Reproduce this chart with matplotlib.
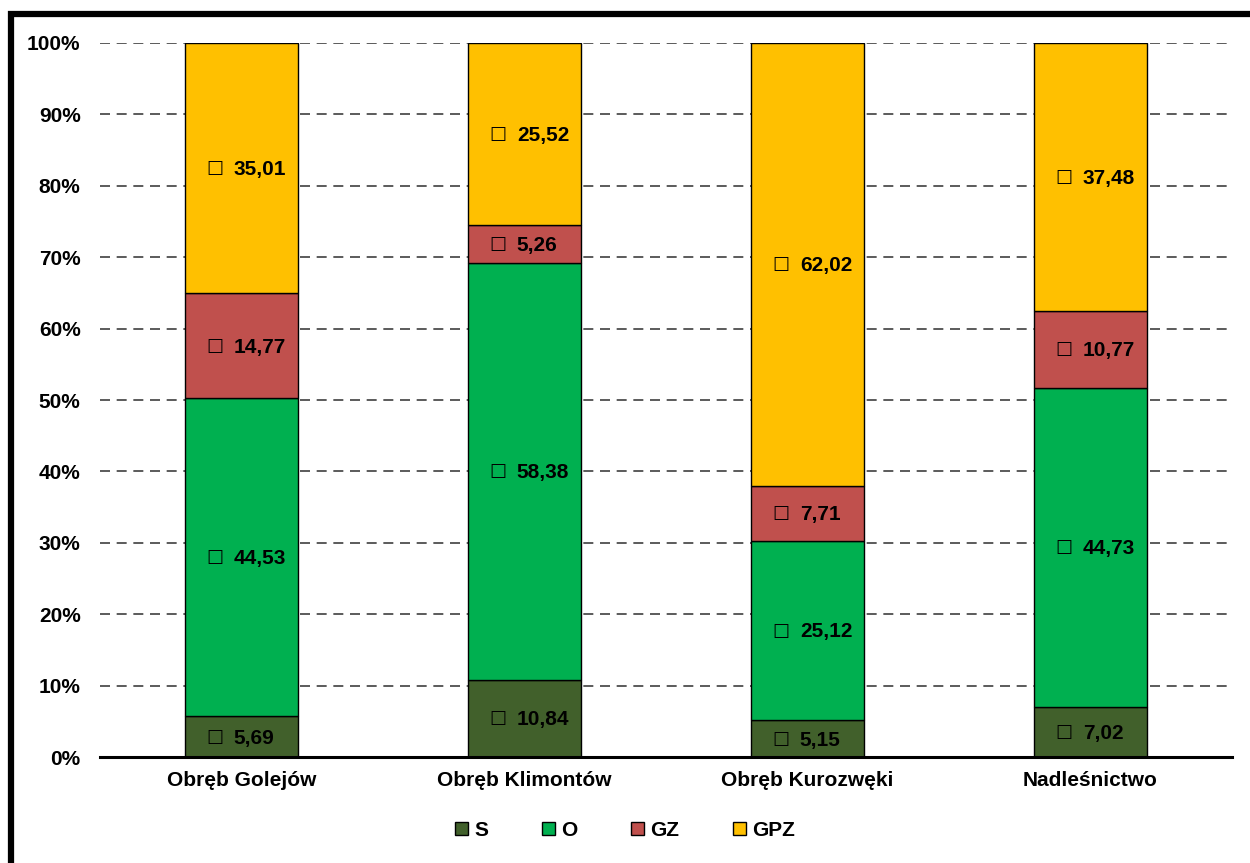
import matplotlib
matplotlib.use("Agg")
import matplotlib.pyplot as plt
from matplotlib.patches import Rectangle
from matplotlib.ticker import PercentFormatter

categories = ["Obręb Golejów", "Obręb Klimontów", "Obręb Kurozwęki", "Nadleśnictwo"]
series_names = ["S", "O", "GZ", "GPZ"]
s_vals = [5.69, 10.84, 5.15, 7.02]
o_vals = [44.53, 58.38, 25.12, 44.73]
gz_vals = [14.77, 5.26, 7.71, 10.77]
gpz_vals = [35.01, 25.52, 62.02, 37.48]
colors = ["#41602B", "#00B050", "#C0504D", "#FFC000"]
y_ticks = [0, 10, 20, 30, 40, 50, 60, 70, 80, 90, 100]

FONT = ["Liberation Sans Narrow", "Liberation Sans", "DejaVu Sans"]
plt.rcParams["font.family"] = FONT
plt.rcParams["font.weight"] = "bold"

fig = plt.figure(figsize=(12.5, 8.63), dpi=100)
ax = fig.add_axes([100 / 1250, 1 - 757 / 863, 1132 / 1250, 714 / 863])

x = list(range(len(categories)))
bottom = [0.0] * len(categories)
for name, vals, col in zip(series_names, [s_vals, o_vals, gz_vals, gpz_vals], colors):
    ax.bar(x, vals, width=0.40, bottom=bottom, color=col, edgecolor="black",
           linewidth=1.0, label=name, zorder=3)
    for xi, b, v in zip(x, bottom, vals):
        yc = b + v / 2
        ax.annotate("□", (xi, yc), xytext=(-19.5, 0), textcoords="offset points",
                    ha="center", va="center", fontsize=13, family="DejaVu Sans",
                    fontweight="normal", zorder=5)
        ax.annotate(f"{v:.2f}".replace(".", ","), (xi, yc), xytext=(-5.5, -1),
                    textcoords="offset points", ha="left", va="center",
                    fontsize=15, fontweight="bold", zorder=5)
    bottom = [b + v for b, v in zip(bottom, vals)]

ax.set_xlim(-0.5, 3.5)
ax.set_ylim(0, 100)
ax.set_yticks(y_ticks)
ax.yaxis.set_major_formatter(PercentFormatter(decimals=0))
ax.set_xticks(x)
ax.set_xticklabels(categories)
ax.tick_params(axis="both", length=0, labelsize=15)
ax.tick_params(axis="y", pad=14)
ax.tick_params(axis="x", pad=10)
for lbl in ax.get_xticklabels() + ax.get_yticklabels():
    lbl.set_fontweight("bold")

ax.grid(axis="y", linestyle=(0, (6, 4)), color="#404040", linewidth=1.2, zorder=0)
for side in ["left", "right", "top"]:
    ax.spines[side].set_visible(False)
ax.spines["bottom"].set_linewidth(2.2)
ax.spines["bottom"].set_zorder(4)

leg = fig.legend(loc="center", bbox_to_anchor=(0.5, 1 - 830 / 863), ncol=4,
                 frameon=False, fontsize=15, handlelength=0.6, handleheight=0.6,
                 handletextpad=0.3, columnspacing=2.6)
for t in leg.get_texts():
    t.set_fontweight("bold")

# heavy frame around the chart area
frame = Rectangle((11 / 1250, -0.1), 1.2, 1 - 14 / 863 + 0.1, transform=fig.transFigure,
                  fill=False, edgecolor="black", linewidth=4.5, clip_on=False)
fig.add_artist(frame)

fig.savefig("out.png", dpi=100, facecolor="white")
